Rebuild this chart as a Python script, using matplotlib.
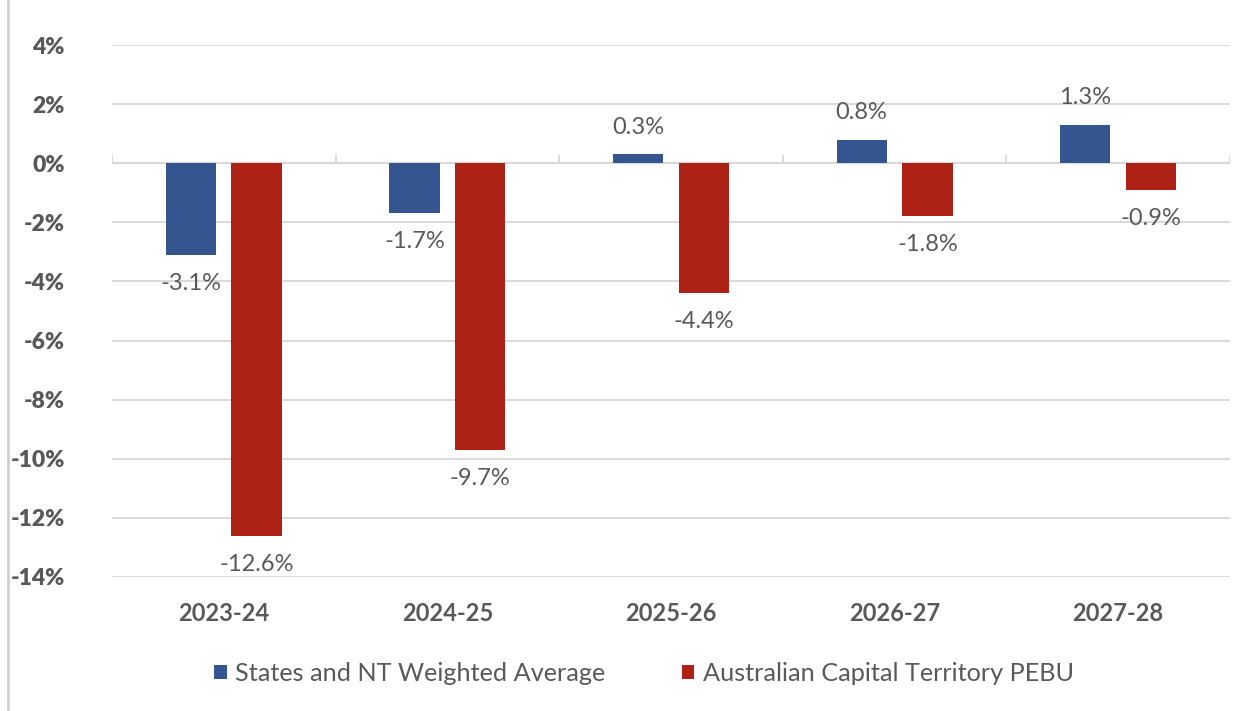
import numpy as np
import matplotlib
matplotlib.use('Agg')
import matplotlib.pyplot as plt
from matplotlib.lines import Line2D

# Datos del grafico
anios = ['2023-24', '2024-25', '2025-26', '2026-27', '2027-28']
promedio_estados = [-3.1, -1.7, 0.3, 0.8, 1.3]
act_pebu = [-12.6, -9.7, -4.4, -1.8, -0.9]
etiqueta_estados = 'States and NT Weighted Average'
etiqueta_act = 'Australian Capital Territory PEBU'

color_azul = '#34558f'
color_rojo = '#ad2117'
color_texto = '#595959'
color_grilla = '#d9d9d9'

plt.rcParams['font.family'] = ['Lato', 'DejaVu Sans']

fig = plt.figure(figsize=(12.54, 7.11), dpi=100)
ax = fig.add_axes([0.0893, 0.1885, 0.8915, 0.7482])

x = np.arange(len(anios))
ancho = 0.225
desp = 0.147

b1 = ax.bar(x - desp, promedio_estados, ancho, color=color_azul, label=etiqueta_estados, zorder=3)
b2 = ax.bar(x + desp, act_pebu, ancho, color=color_rojo, label=etiqueta_act, zorder=3)

# Etiquetas de datos fuera del extremo de la barra
for barras, valores in [(b1, promedio_estados), (b2, act_pebu)]:
    for barra, v in zip(barras, valores):
        xc = barra.get_x() + barra.get_width() / 2
        off = 19.5 if v >= 0 else -20.5
        ax.annotate(f'{v:.1f}%', (xc, v), xytext=(0, off), textcoords='offset points',
                    ha='center', va='center', fontsize=17, color=color_texto)

ax.set_ylim(-14, 4)
ax.set_xlim(-0.5, len(anios) - 0.5)
ax.set_yticks(np.arange(-14, 5, 2))
ax.set_xticks(x)

ax.grid(axis='y', color=color_grilla, linewidth=1.4, zorder=0)
ax.axhline(0, color=color_grilla, linewidth=1.6, zorder=2)
ax.vlines(np.arange(len(anios) + 1) - 0.5, 0, 0.27, color=color_grilla, linewidth=1.4, zorder=2)

for s in ax.spines.values():
    s.set_visible(False)
ax.tick_params(axis='both', length=0, labelcolor=color_texto)
ax.tick_params(axis='y', pad=34)
ax.tick_params(axis='x', pad=18)
ax.set_yticklabels([f'{t}%' for t in range(-14, 5, 2)], fontweight='heavy', fontsize=16.5)
ax.set_xticklabels(anios, fontweight='bold', fontsize=17)

fig.legend(handles=[b1, b2], loc='center', bbox_to_anchor=(0.5136, 0.053), ncol=2, frameon=False,
           fontsize=18.2, labelcolor=color_texto, handlelength=0.5, handleheight=0.5,
           handletextpad=0.35, columnspacing=3.0)

# Borde izquierdo del cuadro
fig.add_artist(Line2D([0.0065, 0.0065], [0, 1], transform=fig.transFigure,
                      color='#d0d0d0', linewidth=2))

fig.savefig('out.png', dpi=100)
